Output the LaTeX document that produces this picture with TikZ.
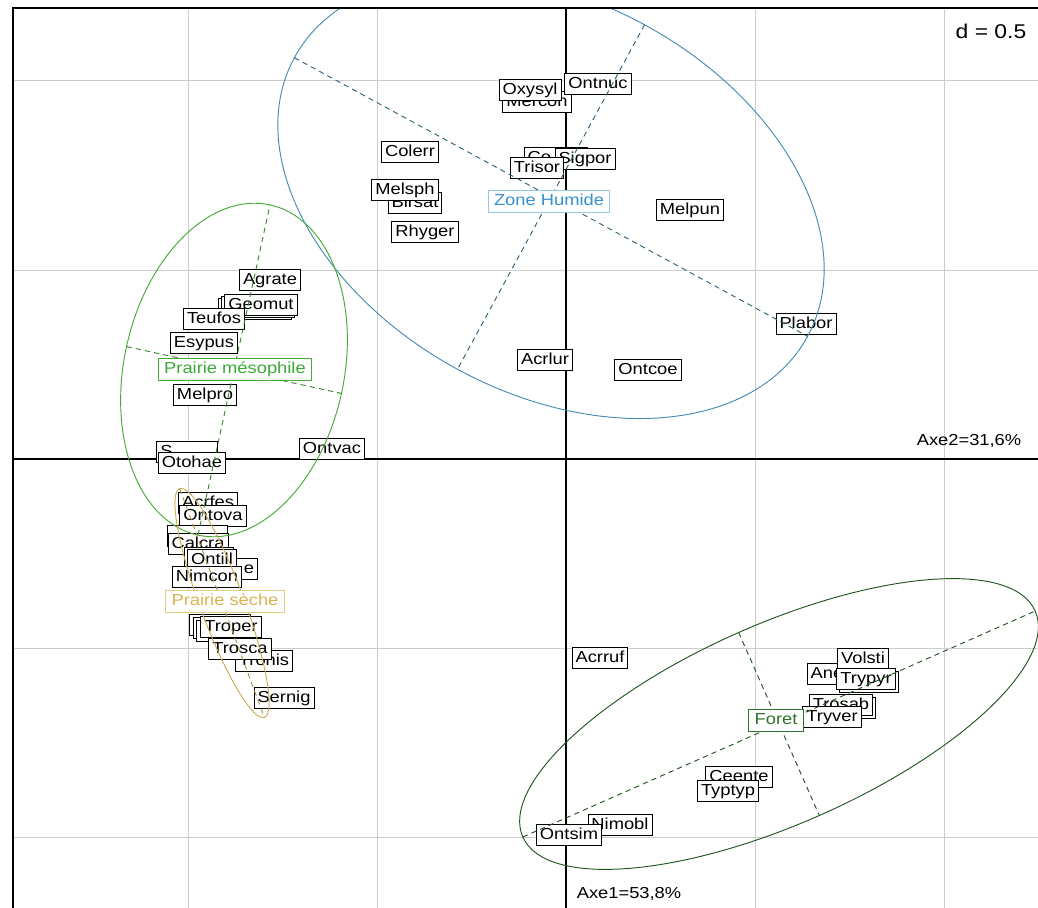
\documentclass[tikz,border=0pt]{standalone}
\usepackage{fontspec}
\setmainfont[FakeStretch=1.15]{Liberation Sans}
\definecolor{gridc}{RGB}{205,205,205}
\definecolor{humide}{RGB}{70,140,175}
\definecolor{humidetxt}{RGB}{55,145,205}
\definecolor{humidebox}{RGB}{150,200,230}
\definecolor{meso}{RGB}{70,170,55}
\definecolor{mesotxt}{RGB}{60,170,55}
\definecolor{seche}{RGB}{205,175,85}
\definecolor{sechetxt}{RGB}{220,180,80}
\definecolor{sechebox}{RGB}{225,205,130}
\definecolor{foret}{RGB}{35,85,35}
\definecolor{forettxt}{RGB}{45,115,45}
\begin{document}
\begin{tikzpicture}[x=0.03cm,y=-0.03cm,
  lab/.style={draw=black, fill=white, line width=0.8pt,
    font=\fontsize{13.6}{16}\selectfont, inner xsep=3pt, inner ysep=2.9pt,
    text height=10pt, text depth=2.9pt},
  cls/.style={lab, line width=0.7pt, inner xsep=5pt},
  gridline/.style={draw=gridc, line width=0.8pt},
  axisline/.style={draw=black, line width=0.9pt},
  ell/.style={line width=0.8pt},
  axdash/.style={line width=0.8pt, dash pattern=on 4.5pt off 3.5pt},
  axtext/.style={font=\fontsize{13.6}{16}\selectfont, inner sep=0pt}]
\useasboundingbox (0,0) rectangle (1038,908);
\begin{scope}
\clip (13,8) rectangle (1038,908);
% grid
\foreach \gx in {188,377,755,944} \draw[gridline] (\gx,8) -- (\gx,908);
\foreach \gy in {80,270,648,837} \draw[gridline] (13,\gy) -- (1038,\gy);
\draw[axisline] (566,8) -- (566,908);
\draw[axisline] (13,459) -- (1038,459);

% ---- species labels : Zone humide
\node[lab] (mercon) at (537,102) {Mercon};
\node[lab] (oxysyl) at (530,90) {Oxysyl};
\node[lab] (ontnuc) at (598,84) {Ontnuc};
\node[lab] (co) at (556,158) {\makebox[1.7cm][l]{Co}};
\node[lab] (sigpor) at (585,159) {Sigpor};
\node[lab] (trisor) at (537,168) {Trisor};
\node[lab] (colerr) at (410,152) {Colerr};
\node[lab] (birsat) at (415,203) {Birsat};
\node[lab] (melsph) at (405,190) {Melsph};
\node[lab] (rhyger) at (425,232) {Rhyger};
\node[lab] (melpun) at (690,210) {Melpun};
\node[lab] (plabor) at (806,324) {Plabor};
\node[lab] (acrlur) at (545,360) {Acrlur};
\node[lab] (ontcoe) at (648,370) {Ontcoe};

% ---- Prairie mesophile
\node[lab] (agrate) at (270,280) {Agrate};
\node[lab] (geob) at (255,309) {\phantom{Geomut}};
\node[lab] (geoa) at (258,307) {\phantom{Geomut}};
\node[lab] (geomut) at (261,305) {Geomut};
\node[lab] (teufos) at (214,319) {Teufos};
\node[lab] (esypus) at (204,343) {Esypus};
\node[lab] (melpro) at (205,395) {Melpro};
\node[lab] (sbox) at (187,452) {\makebox[1.6cm][l]{S}};
\node[lab] (otohae) at (192,463) {Otohae};
\node[lab] (ontvac) at (332,449) {Ontvac};

% ---- Prairie seche
\node[lab] (abox) at (208,503) {\makebox[1.55cm][l]{Acrfes}};
\node[lab] (ontova) at (213,516) {Ontova};
\node[lab] (calb) at (197,536) {\phantom{Calcra}};
\node[lab] (calcra) at (198,544) {Calcra};
\node[lab] (ebox) at (239,569) {\makebox[0.9cm][r]{e}};
\node[lab] (ontb) at (209,558) {\phantom{Ontill}};
\node[lab] (ontill) at (212,560) {Ontill};
\node[lab] (nimcon) at (207,577) {Nimcon};
\node[lab] (trpa) at (220,625) {\phantom{Troper}};
\node[lab] (trpb) at (224,628) {\phantom{Troper}};
\node[lab] (trpc) at (227,631) {\phantom{Troper}};
\node[lab] (troper) at (231,627) {Troper};
\node[lab] (tronis) at (264,661) {Tronis};
\node[lab] (trosca) at (240,649) {Trosca};
\node[lab] (sernig) at (284,698) {Sernig};

% ---- Foret
\node[lab] (acrruf) at (600,658) {Acrruf};
\node[lab] (ane) at (834,674) {\makebox[1.4cm][l]{Ane}};
\node[lab] (volsti) at (863,659) {Volsti};
\node[lab] (tryb) at (869,682) {\phantom{Trypyr}};
\node[lab] (trypyr) at (866,679) {Trypyr};
\node[lab] (trosb) at (844,708) {\phantom{Trosab}};
\node[lab] (trosab) at (841,705) {Trosab};
\node[lab] (tryver) at (832,717) {Tryver};
\node[lab] (ceente) at (739,777) {Ceente};
\node[lab] (typtyp) at (728,791) {Typtyp};
\node[lab] (nimobl) at (620,825) {Nimobl};
\node[lab] (ontsim) at (569,835) {Ontsim};

% ---- ellipses
\begin{scope}[shift={(551,197)}, rotate=-28.5]
  \draw[ell, humide] (0,0) ellipse (292 and 196);
  \draw[axdash, humide!70!black] (-292,0) -- (292,0) (0,-196) -- (0,196);
\end{scope}
\begin{scope}[shift={(234,370)}, rotate=77.7]
  \draw[ell, meso] (0,0) ellipse (169 and 110);
  \draw[axdash, meso!80!black] (-169,0) -- (169,0) (0,-110) -- (0,110);
\end{scope}
\begin{scope}[shift={(222,603)}, rotate=-69.7]
  \draw[ell, seche] (0,0) ellipse (122 and 22);
  \draw[axdash, seche!85!black] (-122,0) -- (122,0) (0,-22) -- (0,22);
\end{scope}
\begin{scope}[shift={(779,724)}, rotate=23.8]
  \draw[ell, foret] (0,0) ellipse (280 and 100);
  \draw[axdash, foret] (-280,0) -- (280,0) (0,-100) -- (0,100);
\end{scope}

% ---- class labels
\node[cls, draw=humidebox, text=humidetxt] (zh) at (549,201) {Zone Humide};
\node[cls, draw=meso, text=mesotxt] (pm) at (235,369) {Prairie mésophile};
\node[cls, draw=sechebox, text=sechetxt] (ps) at (225,601) {Prairie sèche};
\node[cls, draw=forettxt, text=forettxt] (fo) at (776,720) {Foret};
\end{scope}

% frame
\draw[black, line width=1.3pt] (13,908) -- (13,8) -- (1038,8);

% axis texts
\node[axtext] (axe2) at (969,441) {Axe2=31,6\%};
\node[axtext] (axe1) at (629,894) {Axe1=53,8\%};
\node[axtext, font=\fontsize{17}{20}\selectfont] (dlab) at (991,31) {d = 0.5};
\end{tikzpicture}
\end{document}
